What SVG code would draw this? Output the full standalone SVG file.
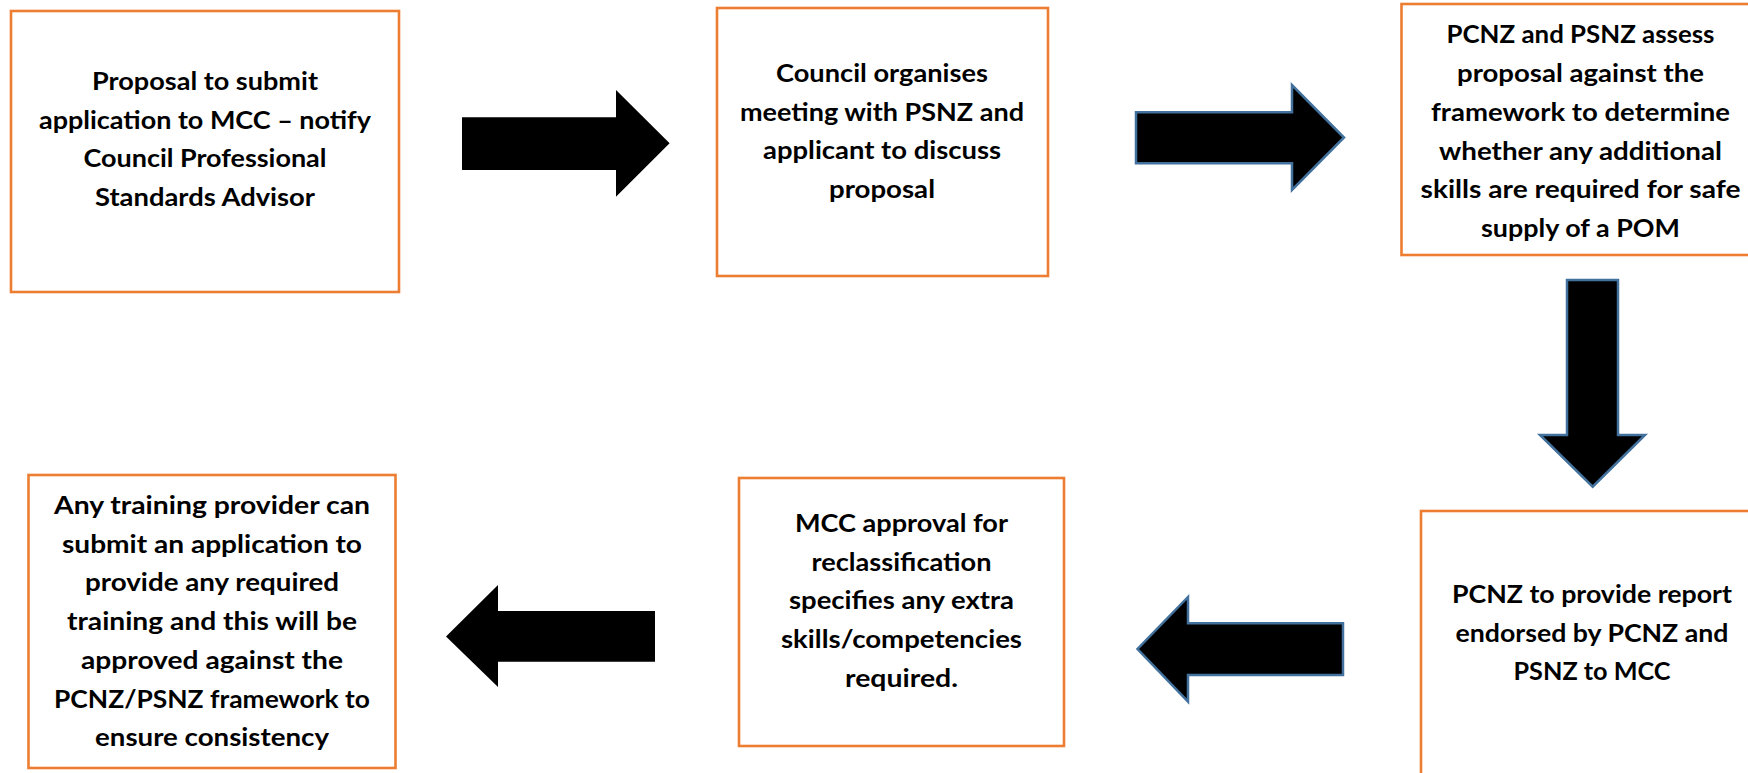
<svg xmlns="http://www.w3.org/2000/svg" width="1748" height="773" viewBox="0 0 1748 773">
<style>
.box{fill:#ffffff;stroke:#ED7D31;stroke-width:2.6}
.t{font-family:"Lato","Liberation Sans",sans-serif;font-weight:700;font-size:25px;fill:#000000;text-anchor:middle}
.arrow{fill:#000000;stroke:none}
.arrow-o{fill:#000000;stroke:#41719C;stroke-width:2.5;stroke-linejoin:miter}
</style>
<rect x="0" y="0" width="1748" height="773" fill="#ffffff"/>
<g id="connectors">
<polygon id="a1" class="arrow" points="462,117.3 616,117.3 616,90 669.6,143.3 616,196.7 616,170 462,170"/>
<polygon id="a2" class="arrow-o" points="1136,112.3 1292,112.3 1292,85 1344,137.5 1292,190 1292,163.3 1136,163.3"/>
<polygon id="a3" class="arrow-o" points="1567,280 1618,280 1618,435 1645,435 1592.7,486.7 1540,435 1567,435"/>
<polygon id="a4" class="arrow-o" points="1343,623.3 1188,623.3 1188,597 1137.5,649 1188,701.7 1188,675 1343,675"/>
<polygon id="a5" class="arrow" points="655,611 498,611 498,585 446,636.5 498,687 498,661.7 655,661.7"/>
</g>
<g id="n1">
<rect class="box" x="11" y="11" width="388" height="281"/>
<text class="t" x="205" y="90" textLength="226" lengthAdjust="spacingAndGlyphs">Proposal to submit</text>
<text class="t" x="205" y="128.7" textLength="332" lengthAdjust="spacingAndGlyphs">application to MCC – notify</text>
<text class="t" x="205" y="167.4" textLength="243" lengthAdjust="spacingAndGlyphs">Council Professional</text>
<text class="t" x="205" y="206.1" textLength="220" lengthAdjust="spacingAndGlyphs">Standards Advisor</text>
</g>
<g id="n2">
<rect class="box" x="717" y="8" width="331" height="268"/>
<text class="t" x="882" y="81.7" textLength="212" lengthAdjust="spacingAndGlyphs">Council organises</text>
<text class="t" x="882" y="120.5" textLength="284" lengthAdjust="spacingAndGlyphs">meeting with PSNZ and</text>
<text class="t" x="882" y="159.3" textLength="238" lengthAdjust="spacingAndGlyphs">applicant to discuss</text>
<text class="t" x="882" y="198" textLength="106" lengthAdjust="spacingAndGlyphs">proposal</text>
</g>
<g id="n3">
<rect class="box" x="1401.5" y="4" width="360" height="251"/>
<text class="t" x="1580.5" y="43.3" textLength="268" lengthAdjust="spacingAndGlyphs">PCNZ and PSNZ assess</text>
<text class="t" x="1580.5" y="82.2" textLength="247" lengthAdjust="spacingAndGlyphs">proposal against the</text>
<text class="t" x="1580.5" y="120.9" textLength="299" lengthAdjust="spacingAndGlyphs">framework to determine</text>
<text class="t" x="1580.5" y="159.6" textLength="283" lengthAdjust="spacingAndGlyphs">whether any additional</text>
<text class="t" x="1580.5" y="198.3" textLength="320" lengthAdjust="spacingAndGlyphs">skills are required for safe</text>
<text class="t" x="1580.5" y="237.2" textLength="199" lengthAdjust="spacingAndGlyphs">supply of a POM</text>
</g>
<g id="n4">
<rect class="box" x="1421" y="511" width="342" height="280"/>
<text class="t" x="1592" y="602.7" textLength="280" lengthAdjust="spacingAndGlyphs">PCNZ to provide report</text>
<text class="t" x="1592" y="641.5" textLength="273" lengthAdjust="spacingAndGlyphs">endorsed by PCNZ and</text>
<text class="t" x="1592" y="680.2" textLength="157" lengthAdjust="spacingAndGlyphs">PSNZ to MCC</text>
</g>
<g id="n5">
<rect class="box" x="739" y="478" width="325" height="268"/>
<text class="t" x="901.5" y="531.7" textLength="213" lengthAdjust="spacingAndGlyphs">MCC approval for</text>
<text class="t" x="901.5" y="570.5" textLength="180" lengthAdjust="spacingAndGlyphs">reclassification</text>
<text class="t" x="901.5" y="609.2" textLength="225" lengthAdjust="spacingAndGlyphs">specifies any extra</text>
<text class="t" x="901.5" y="647.9" textLength="241" lengthAdjust="spacingAndGlyphs">skills/competencies</text>
<text class="t" x="901.5" y="686.6" textLength="113" lengthAdjust="spacingAndGlyphs">required.</text>
</g>
<g id="n6">
<rect class="box" x="28.5" y="475" width="367" height="293"/>
<text class="t" x="212" y="514" textLength="316" lengthAdjust="spacingAndGlyphs">Any training provider can</text>
<text class="t" x="212" y="552.7" textLength="300" lengthAdjust="spacingAndGlyphs">submit an application to</text>
<text class="t" x="212" y="591.4" textLength="254" lengthAdjust="spacingAndGlyphs">provide any required</text>
<text class="t" x="212" y="630.1" textLength="290" lengthAdjust="spacingAndGlyphs">training and this will be</text>
<text class="t" x="212" y="668.8" textLength="262" lengthAdjust="spacingAndGlyphs">approved against the</text>
<text class="t" x="212" y="707.5" textLength="316" lengthAdjust="spacingAndGlyphs">PCNZ/PSNZ framework to</text>
<text class="t" x="212" y="746.2" textLength="234" lengthAdjust="spacingAndGlyphs">ensure consistency</text>
</g>
</svg>
